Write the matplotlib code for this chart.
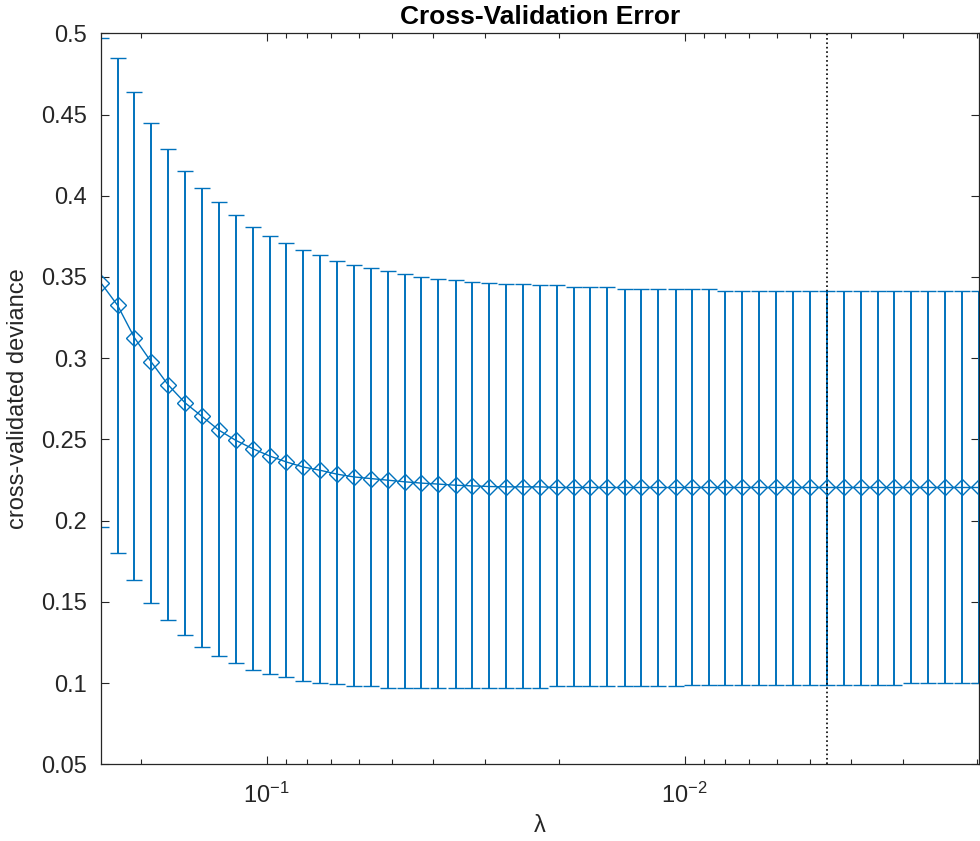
import numpy as np
import matplotlib.pyplot as plt
from matplotlib.ticker import LogLocator, FixedLocator, FuncFormatter

plt.rcParams['font.family'] = ['Liberation Sans', 'DejaVu Sans']
plt.rcParams['mathtext.fontset'] = 'custom'
plt.rcParams['mathtext.rm'] = 'Liberation Sans'

# lambda values (decreasing)
lam = [0.2492, 0.2271, 0.2070, 0.1886, 0.1718, 0.1566, 0.1427, 0.1300, 0.1184, 0.1079,
       0.0983, 0.0896, 0.0816, 0.0744, 0.0678, 0.0617, 0.0563, 0.0513, 0.0467, 0.0426,
       0.0388, 0.0353, 0.0322, 0.0293, 0.0267, 0.0244, 0.0222, 0.0202, 0.0184, 0.0168,
       0.0153, 0.0139, 0.0127, 0.0116, 0.0105, 0.00961, 0.00876, 0.00798, 0.00727, 0.00662,
       0.00603, 0.00550, 0.00501, 0.00456, 0.00416, 0.00379, 0.00345, 0.00315, 0.00287, 0.00261,
       0.00238, 0.00217, 0.00198]

# cross-validated deviance (markers)
deviance = [0.3465, 0.3325, 0.3126, 0.2976, 0.2835, 0.2725, 0.2642, 0.2557, 0.2494, 0.2443,
            0.2398, 0.2361, 0.2330, 0.2310, 0.2286, 0.2269, 0.2259, 0.2249, 0.2239, 0.2231,
            0.2225, 0.2218, 0.2214, 0.2210, 0.2208, 0.2208, 0.2208, 0.2204, 0.2204, 0.2204,
            0.2204, 0.2204, 0.2204, 0.2204, 0.2204, 0.2204, 0.2204, 0.2204, 0.2204, 0.2204,
            0.2204, 0.2204, 0.2204, 0.2204, 0.2204, 0.2204, 0.2204, 0.2204, 0.2204, 0.2204,
            0.2204, 0.2204, 0.2204]

# top of error bars
upper = [0.497, 0.485, 0.4637, 0.4447, 0.4286, 0.4153, 0.4045, 0.3959, 0.3882, 0.3810,
         0.3755, 0.3708, 0.3663, 0.3633, 0.3598, 0.3576, 0.3555, 0.3535, 0.3521, 0.3500,
         0.3490, 0.3480, 0.3469, 0.3465, 0.3459, 0.3459, 0.3449, 0.3449, 0.3438, 0.3438,
         0.3438, 0.3424, 0.3424, 0.3424, 0.3424, 0.3424, 0.3424, 0.3412, 0.3412, 0.3412,
         0.3412, 0.3412, 0.3412, 0.3412, 0.3412, 0.3412, 0.3412, 0.3412, 0.3412, 0.3412,
         0.3412, 0.3412, 0.3412]

# bottom of error bars
lower = [0.196, 0.180, 0.1637, 0.1494, 0.1388, 0.1296, 0.1221, 0.1167, 0.1123, 0.1078,
         0.1057, 0.1037, 0.1014, 0.1002, 0.0992, 0.0984, 0.0984, 0.0970, 0.0970, 0.0970,
         0.0970, 0.0970, 0.0970, 0.0970, 0.0970, 0.0970, 0.0970, 0.0984, 0.0984, 0.0984,
         0.0984, 0.0984, 0.0984, 0.0984, 0.0984, 0.0990, 0.0990, 0.0990, 0.0990, 0.0990,
         0.0990, 0.0990, 0.0990, 0.0990, 0.0990, 0.0990, 0.0990, 0.0990, 0.1000, 0.1000,
         0.1000, 0.1000, 0.1000]

lambda_min_dev = 0.00456
y_ticks = [0.05, 0.1, 0.15, 0.2, 0.25, 0.3, 0.35, 0.4, 0.45, 0.5]

blue = '#0072BD'
dark = '#262626'

lam = np.array(lam)
deviance = np.array(deviance)
err = [deviance - np.array(lower), np.array(upper) - deviance]

fig = plt.figure(figsize=(9.8, 8.41), dpi=100)
ax = fig.add_axes([0.1028, 0.0912, 0.8957, 0.8692])

ax.errorbar(lam, deviance, yerr=err, color=blue, ecolor=blue, elinewidth=1.4,
            capsize=5.5, capthick=1.4, linewidth=1.0, marker='D', markersize=8,
            markerfacecolor='none', markeredgecolor=blue, markeredgewidth=1.0)
ax.axvline(lambda_min_dev, color='black', linestyle=':', linewidth=1.2)

ax.set_xscale('log')
ax.set_xlim(lam[0], lam[-1])
ax.set_ylim(0.05, 0.5)
ax.yaxis.set_major_locator(FixedLocator(y_ticks))
ax.yaxis.set_major_formatter(FuncFormatter(lambda v, p: ('%.2f' % v).rstrip('0')))
ax.xaxis.set_major_locator(LogLocator(base=10))
ax.xaxis.set_minor_locator(LogLocator(base=10, subs=np.arange(2, 10)))

ax.tick_params(which='both', direction='in', top=True, right=True, colors=dark,
               labelsize=17, width=0.8)
ax.tick_params(axis='x', which='major', length=6, pad=13)
ax.tick_params(axis='x', which='minor', length=3.5)
ax.tick_params(axis='y', which='major', length=6, pad=10)
for s in ax.spines.values():
    s.set_color(dark)
    s.set_linewidth(0.9)

ax.set_title('Cross-Validation Error', fontsize=19, fontweight='bold', pad=7)
ax.set_xlabel('λ', fontsize=17, color=dark)
ax.set_ylabel('cross-validated deviance', fontsize=17, color=dark)
ax.xaxis.set_label_coords(0.5, -0.07)
ax.yaxis.set_label_coords(-0.082, 0.5)

fig.savefig('out.png', dpi=100)
